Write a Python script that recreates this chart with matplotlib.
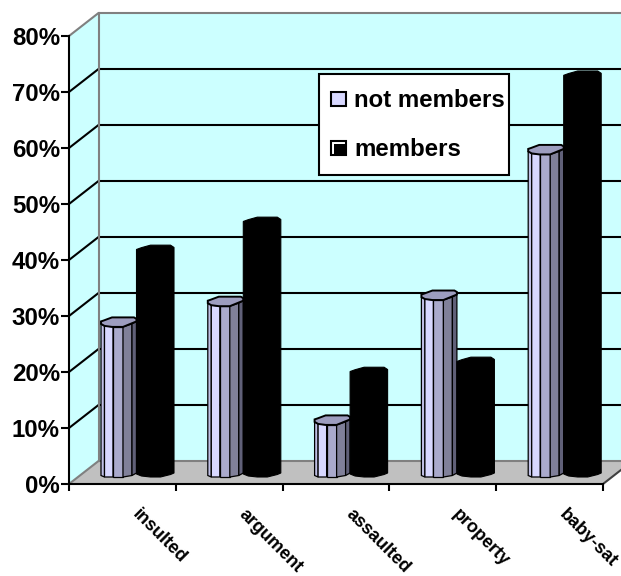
import matplotlib
matplotlib.use("Agg")
import matplotlib.pyplot as plt
from matplotlib.patches import Polygon, Rectangle

categories = ["insulted", "argument", "assaulted", "property", "baby-sat"]
not_members = [28.5, 32.2, 11, 33.3, 59.3]
members = [41.4, 46.4, 19.6, 21.4, 72.5]
y_ticks = [0, 10, 20, 30, 40, 50, 60, 70, 80]
y_labels = ["0%", "10%", "20%", "30%", "40%", "50%", "60%", "70%", "80%"]

plt.rcParams["font.family"] = ["Liberation Sans", "DejaVu Sans"]

W, H = 621, 576
# one category is 106.8 px wide, 1% is 5.6 px tall
UX, UY = 106.8, 5.6
LEFT, BOTTOM = 69, 484


def dx(p):
    return p / UX


def dy(p):
    return p / UY


fig = plt.figure(figsize=(W / 100, H / 100), dpi=100)
ax = fig.add_axes([0, 0, 1, 1])
ax.set_xlim(-LEFT / UX, (W - LEFT) / UX)
ax.set_ylim(-(H - BOTTOM) / UY, BOTTOM / UY)

n = len(categories)
depth_x, depth_y = dx(29.5), dy(23)
top = y_ticks[-1]

# walls and floor
ax.add_patch(Rectangle((depth_x, depth_y), n + 1, top, fc="#ccffff", ec="none", zorder=0))
ax.add_patch(Polygon([(0, 0), (depth_x, depth_y), (depth_x, depth_y + top), (0, top)],
                     fc="#ccffff", ec="none", zorder=0))
ax.add_patch(Polygon([(0, 0), (n, 0), (n + depth_x, depth_y), (depth_x, depth_y)],
                     fc="#c0c0c0", ec="none", zorder=1))

# gridlines across the back wall and down the side wall
for t in y_ticks[1:-1]:
    ax.plot([0, depth_x, n + 1], [t, t + depth_y, t + depth_y], color="black", lw=1.5,
            zorder=2, solid_capstyle="butt")

grey = "#808080"
ax.plot([0, depth_x, n + 1], [top, top + depth_y, top + depth_y], color=grey, lw=1.5, zorder=2)
ax.plot([depth_x, depth_x], [depth_y, top + depth_y], color=grey, lw=1.5, zorder=2)
ax.plot([0, depth_x, n + depth_x], [0, depth_y, depth_y], color=grey, lw=1.5, zorder=2)
ax.plot([n, n + depth_x], [0, depth_y], color="#404040", lw=1.5, zorder=2)

base = dy(7)
# facet edges across the column, px from its left side
facet_x = [0, 3.5, 12, 22, 31, 35.5]
facet_bottom = [1.5, 0, 0, 0, 1.5, 4]
facet_colors = ["#c0c0e6", "#d8d8ff", "#aaaacc", "#808099", "#606078"]
cap_pts = [(0, 6.5), (3, 7.5), (11, 10.5), (33, 10.5), (35.5, 9), (35.5, 6.5), (22, 1), (11, 1),
           (3.5, 2), (0, 4)]
rim = [4, 2, 1, 1, 4, 6.5]

# black columns sit beside the light ones in each pair
black_x = [0, 5, 14, 24, 34, 37.5]
black_bottom = [3, 1, 0, 0, 2.5, 4]
black_top = [-4.3, -2.5, 0, 0, 0, -2.3]

for i in range(n):
    x0 = i + dx(32)
    h = not_members[i]
    y_top = base + h
    # light column, one polygon per facet
    for j in range(5):
        xa, xb = facet_x[j], facet_x[j + 1]
        ya = base + dy(facet_bottom[j])
        yb = base + dy(facet_bottom[j + 1])
        ta = y_top - dy(10.5 - rim[j])
        tb = y_top - dy(10.5 - rim[j + 1])
        ax.add_patch(Polygon([(x0 + dx(xa), ya), (x0 + dx(xb), yb),
                              (x0 + dx(xb), tb), (x0 + dx(xa), ta)],
                             fc=facet_colors[j], ec="black", lw=0.9, zorder=4))
    ax.add_patch(Polygon([(x0 + dx(a), y_top - dy(10.5 - b)) for a, b in cap_pts],
                         fc="#9d9dbf", ec="black", lw=1.4, zorder=5))

    xb0 = x0 + dx(35.5)
    h = members[i]
    pts = [(xb0 + dx(a), base + dy(b)) for a, b in zip(black_x, black_bottom)]
    pts += [(xb0 + dx(a), base + h + dy(b)) for a, b in zip(black_x[::-1], black_top[::-1])]
    ax.add_patch(Polygon(pts, fc="black", ec="black", lw=0.8, zorder=6))

# axes
ax.spines[["top", "right"]].set_visible(False)
ax.spines["left"].set_position(("data", 0))
ax.spines["bottom"].set_position(("data", 0))
ax.spines["left"].set_bounds(0, top)
ax.spines["bottom"].set_bounds(0, n)
ax.spines["left"].set_linewidth(1.5)
ax.spines["bottom"].set_linewidth(1.5)
ax.spines["left"].set_zorder(7)
ax.spines["bottom"].set_zorder(7)
ax.set_yticks(y_ticks)
ax.set_yticklabels(y_labels, fontsize=17.3, fontweight="bold")
ax.set_xticks(range(n + 1))
ax.set_xticklabels([])
ax.tick_params(axis="y", length=5.5, width=1.5, pad=1)
ax.tick_params(axis="x", length=5, width=1.5)

for i, name in enumerate(categories):
    ax.text(i + 0.615, -dy(27.5), name, rotation=-45, rotation_mode="anchor", ha="left", va="center",
            fontsize=13, fontweight="bold", color="black")

# legend box
lx, rx = (319 - LEFT) / UX, (509 - LEFT) / UX
ly_top, ly_bot = (BOTTOM - 73.5) / UY, (BOTTOM - 175) / UY
ax.add_patch(Rectangle((lx, ly_bot), rx - lx, ly_top - ly_bot, fc="white", ec="black", lw=1.5, zorder=8))
entries = [("not members", "#d8d8ff", 98.5), ("members", "white", 148)]
for label, col, py in entries:
    ax.add_patch(Rectangle(((331 - LEFT) / UX, (BOTTOM - py - 7) / UY), 14.5 / UX, 14 / UY,
                           fc=col, ec="black", lw=1.5, zorder=9))
    ax.text((354 - LEFT) / UX, (BOTTOM - py - 1.5) / UY, label, ha="left", va="center",
            fontsize=17.3, fontweight="bold", zorder=9)
# the black key keeps a thin white highlight on its top and left
ax.add_patch(Rectangle(((334 - LEFT) / UX, (BOTTOM - 155) / UY), 11.5 / UX, 11 / UY,
                       fc="black", ec="none", zorder=10))

fig.savefig("out.png", dpi=100, facecolor="white")
